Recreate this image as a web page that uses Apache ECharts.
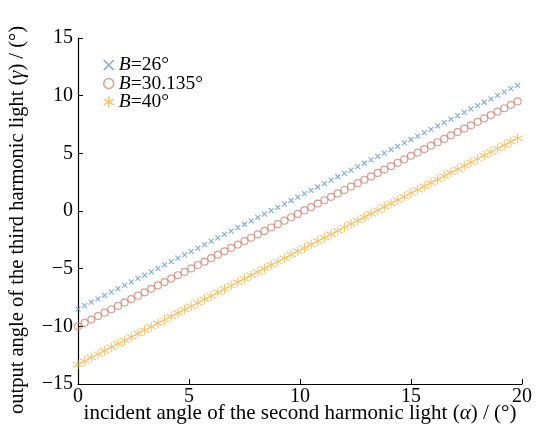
<!DOCTYPE html>
<html>
<head>
<meta charset="utf-8">
<script src="https://cdn.jsdelivr.net/npm/echarts@6/dist/echarts.min.js"></script>
<style>
  html, body { margin: 0; padding: 0; background: #fff; }
  #chart { width: 537px; height: 426px; }
</style>
</head>
<body>
<div id="chart"></div>
<script>
// incident angle alpha (deg)
var alpha = [0, 0.3, 0.6, 0.9, 1.2, 1.5, 1.8, 2.1, 2.4, 2.7, 3, 3.3, 3.6, 3.9, 4.2, 4.5, 4.8, 5.1, 5.4, 5.7,
  6, 6.3, 6.6, 6.9, 7.2, 7.5, 7.8, 8.1, 8.4, 8.7, 9, 9.3, 9.6, 9.9, 10.2, 10.5, 10.8, 11.1, 11.4, 11.7,
  12, 12.3, 12.6, 12.9, 13.2, 13.5, 13.8, 14.1, 14.4, 14.7, 15, 15.3, 15.6, 15.9, 16.2, 16.5, 16.8, 17.1,
  17.4, 17.7, 18, 18.3, 18.6, 18.9, 19.2, 19.5, 19.8];
// output angle gamma for B=26
var gammaB26 = [-8.50, -8.21, -7.91, -7.62, -7.32, -7.03, -6.74, -6.44, -6.15, -5.85, -5.56, -5.27, -4.97, -4.68,
  -4.38, -4.09, -3.80, -3.50, -3.21, -2.91, -2.62, -2.33, -2.03, -1.74, -1.44, -1.15, -0.86, -0.56, -0.27,
  0.03, 0.32, 0.61, 0.91, 1.20, 1.50, 1.79, 2.08, 2.38, 2.67, 2.97, 3.26, 3.55, 3.85, 4.14, 4.44, 4.73,
  5.02, 5.32, 5.61, 5.91, 6.20, 6.49, 6.79, 7.08, 7.38, 7.67, 7.96, 8.26, 8.55, 8.85, 9.14, 9.43, 9.73,
  10.02, 10.32, 10.61, 10.90];
// B=30.135
var gammaB30 = [-10.00, -9.70, -9.41, -9.11, -8.82, -8.52, -8.23, -7.93, -7.64, -7.34, -7.05, -6.75, -6.45, -6.16,
  -5.86, -5.57, -5.27, -4.98, -4.68, -4.39, -4.09, -3.79, -3.50, -3.20, -2.91, -2.61, -2.32, -2.02, -1.73,
  -1.43, -1.14, -0.84, -0.54, -0.25, 0.05, 0.34, 0.64, 0.93, 1.23, 1.52, 1.82, 2.12, 2.41, 2.71, 3.00,
  3.30, 3.59, 3.89, 4.18, 4.48, 4.78, 5.07, 5.37, 5.66, 5.96, 6.25, 6.55, 6.84, 7.14, 7.43, 7.73, 8.03,
  8.32, 8.62, 8.91, 9.21, 9.50];
// B=40
var gammaB40 = [-13.30, -13.00, -12.71, -12.41, -12.11, -11.82, -11.52, -11.22, -10.92, -10.63, -10.33, -10.03,
  -9.74, -9.44, -9.14, -8.85, -8.55, -8.25, -7.95, -7.66, -7.36, -7.06, -6.77, -6.47, -6.17, -5.88, -5.58,
  -5.28, -4.98, -4.69, -4.39, -4.09, -3.80, -3.50, -3.20, -2.91, -2.61, -2.31, -2.01, -1.72, -1.42, -1.12,
  -0.83, -0.53, -0.23, 0.07, 0.36, 0.66, 0.96, 1.25, 1.55, 1.85, 2.14, 2.44, 2.74, 3.04, 3.33, 3.63, 3.93,
  4.22, 4.52, 4.82, 5.11, 5.41, 5.71, 6.01, 6.30];
var seriesNames = ['B=26°', 'B=30.135°', 'B=40°'];

var font = '"Liberation Serif", "Times New Roman", serif';
var black = '#000';

function pairs(ys) {
  var out = [];
  for (var i = 0; i < alpha.length; i++) out.push([alpha[i], ys[i]]);
  return out;
}
function minus(v) { return String(v).replace('-', '\u2212'); }
function richStyle(size, lh) {
  return {
    fontFamily: font, fontSize: size, color: black, lineHeight: lh,
    rich: {
      n: { fontFamily: font, fontSize: size, color: black, lineHeight: lh },
      i: { fontFamily: font, fontSize: size, fontStyle: 'italic', color: black, lineHeight: lh }
    }
  };
}

var crossPath = 'path://M-1,-1L1,1M-1,1L1,-1';
var starPath = 'path://M0,-1L0,1M-0.87,-0.5L0.87,0.5M-0.87,0.5L0.87,-0.5';

var yNameStyle = richStyle(20.5);
yNameStyle.padding = [0, 18, 0, 0];

var chart = echarts.init(document.getElementById('chart'), null, { renderer: 'canvas' });
chart.setOption({
  animation: false,
  backgroundColor: '#fff',
  grid: { left: 78, right: 15, top: 38, bottom: 42, outerBoundsMode: 'none', containLabel: false },
  legend: {
    left: 103, top: 55, orient: 'vertical', itemGap: -1.5, padding: 0,
    itemWidth: 10, itemHeight: 14,
    textStyle: richStyle(19.5, 17),
    formatter: function (name) {
      var k = name.indexOf('=');
      return '{i|' + name.slice(0, k) + '}{n|' + name.slice(k) + '}';
    },
    data: [
      { name: seriesNames[0], itemStyle: { borderWidth: 1.5 } },
      { name: seriesNames[1], itemStyle: { borderWidth: 1.5 } },
      { name: seriesNames[2], itemStyle: { borderWidth: 1.5 } }
    ]
  },
  xAxis: {
    type: 'value', min: 0, max: 20, interval: 5,
    name: '{n|incident angle of the second harmonic light (}{i|α}{n|) / (°)}',
    nameLocation: 'middle', nameGap: 19, nameMoveOverlap: false,
    nameTextStyle: richStyle(21),
    axisLine: { onZero: false, lineStyle: { color: black, width: 1.2 } },
    axisTick: { inside: true, length: 5, lineStyle: { color: black } },
    axisLabel: { fontFamily: font, fontSize: 20, color: black, margin: 3 },
    splitLine: { show: false }
  },
  yAxis: {
    type: 'value', min: -15, max: 15, interval: 5,
    name: '{n|output angle of the third harmonic light (}{i|γ}{n|) / (°)}',
    nameLocation: 'middle', nameGap: 50, nameMoveOverlap: false,
    nameTextStyle: yNameStyle,
    axisLine: { show: true, onZero: false, lineStyle: { color: black, width: 1.2 } },
    axisTick: { inside: true, length: 5, lineStyle: { color: black } },
    axisLabel: { fontFamily: font, fontSize: 20, color: black, margin: 5, formatter: minus },
    splitLine: { show: false }
  },
  series: [
    {
      name: seriesNames[0], type: 'scatter', data: pairs(gammaB26),
      symbol: crossPath, symbolSize: 5,
      itemStyle: { color: 'transparent', borderColor: '#5f96cc', borderWidth: 1.1 },
      z: 3
    },
    {
      name: seriesNames[1], type: 'scatter', data: pairs(gammaB30),
      symbol: 'circle', symbolSize: 7,
      itemStyle: { color: 'transparent', borderColor: '#cf8576', borderWidth: 1.2 },
      z: 2
    },
    {
      name: seriesNames[2], type: 'scatter', data: pairs(gammaB40),
      symbol: starPath, symbolSize: 10,
      itemStyle: { color: 'transparent', borderColor: '#f0b74c', borderWidth: 1.1 },
      z: 1
    }
  ]
});
</script>
</body>
</html>
